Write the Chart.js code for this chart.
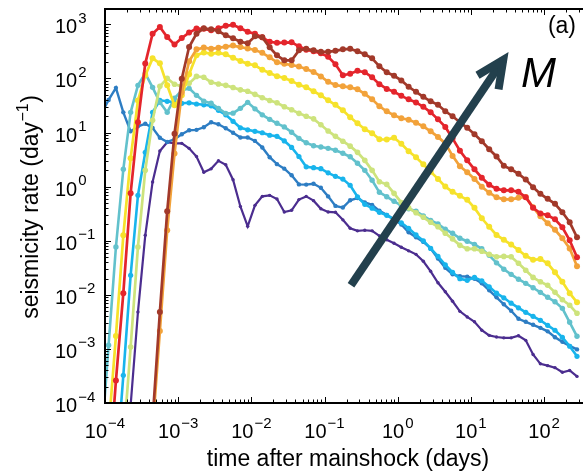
<!DOCTYPE html>
<html>
<head>
<meta charset="utf-8">
<script src="https://cdn.jsdelivr.net/npm/chart.js@4.4.1/dist/chart.umd.min.js"></script>
<style>
  html, body { margin: 0; padding: 0; background: #fff; }
  #wrap { width: 586px; height: 472px; }
</style>
</head>
<body>
<div id="wrap"><canvas id="rateChart" width="586" height="472"></canvas></div>
<script>
// time bins (days after mainshock), shared by all curves
const timeBins = [
  8.91e-5, 1.12e-4, 1.41e-4, 1.78e-4, 2.24e-4, 2.82e-4, 3.55e-4, 4.47e-4, 5.62e-4, 7.08e-4,
  8.91e-4, 1.12e-3, 1.41e-3, 1.78e-3, 2.24e-3, 2.82e-3, 3.55e-3, 4.47e-3, 5.62e-3, 7.08e-3,
  8.91e-3, 0.0112, 0.0141, 0.0178, 0.0224, 0.0282, 0.0355, 0.0447, 0.0562, 0.0708,
  0.0891, 0.112, 0.141, 0.178, 0.224, 0.282, 0.355, 0.447, 0.562, 0.708,
  0.891, 1.12, 1.41, 1.78, 2.24, 2.82, 3.55, 4.47, 5.62, 7.08,
  8.91, 11.2, 14.1, 17.8, 22.4, 28.2, 35.5, 44.7, 56.2, 70.8,
  89.1, 112, 141, 178, 224, 282
];

// seismicity rate (1/day), smallest magnitude first
const ratePurple = [null, null, null, null, 9e-5, 4.8e-3, 0.126, 1.22, 4.55, 6.6,
  6.3, 6.3, 5.1, 3.6, 1.84, 2.13, 3.0, 2.53, 1.34, 0.43,
  0.185, 0.45, 0.66, 0.69, 0.59, 0.34, 0.365, 0.575, 0.66, 0.55,
  0.39, 0.34, 0.335, 0.243, 0.17, 0.152, 0.156, 0.152, 0.123, 0.104,
  0.0895, 0.0755, 0.065, 0.056, 0.0416, 0.0272, 0.0167, 0.0114, 0.0076, 0.00495,
  0.0039, 0.00317, 0.00221, 0.00178, 0.00166, 0.0016, 0.0016, 0.00175, 0.00144, 7.9e-4,
  5.3e-4, 4.9e-4, 4.5e-4, 3.7e-4, 4.0e-4, 3.1e-4];
const rateBlue = [22, 40, 67, 23.6, 10.5, 13, 14.5, 12.2, 8.0, 6.7,
  7.5, 9.3, 11, 11.2, 12.5, 15.5, 14.2, 12, 9.9, 8.1,
  8.1, 7.0, 5.3, 3.5, 2.6, 2.15, 1.62, 1.1, 1.09, 1.13,
  0.95, 0.66, 0.44, 0.41, 0.56, 0.615, 0.51, 0.46, 0.357, 0.30,
  0.249, 0.20, 0.143, 0.116, 0.095, 0.072, 0.047, 0.0315, 0.0239, 0.022,
  0.0217, 0.0198, 0.0163, 0.0121, 0.009, 0.00667, 0.00506, 0.0036, 0.00317, 0.00279,
  0.00245, 0.00211, 0.00164, 0.00135, 0.00114, 9.8e-4];
const rateCyan = [null, null, 5e-6, 3.25e-4, 0.0229, 0.69, 4.3, 23.6, 39.4, 37.8,
  36.1, 34.7, 35.4, 33.7, 32.5, 31.2, 25.7, 21.2, 16.1, 12.2,
  11.2, 10.5, 9.9, 8.9, 8.5, 7.0, 5.3, 3.6, 2.32, 2.24,
  2.15, 1.8, 1.55, 1.38, 1.06, 0.65, 0.47, 0.40, 0.335, 0.295,
  0.249, 0.214, 0.17, 0.128, 0.0995, 0.072, 0.0515, 0.0359, 0.026, 0.0198,
  0.0185, 0.021, 0.0182, 0.0141, 0.0107, 0.0088, 0.007, 0.00575, 0.00475, 0.004,
  0.00338, 0.00273, 0.00221, 0.00164, 0.00112, 7.3e-4];
const rateTeal = [1.8e-5, 1.17e-3, 0.0766, 2.09, 23.6, 74.5, 124, 68.4, 36.1, 23.6,
  42.9, 60, 65.6, 48.7, 37.8, 34.7, 28, 22.6, 22.8, 28,
  36.1, 27.4, 21.2, 17.5, 14.8, 12.7, 10.1, 7.8, 6.45, 5.7,
  5.4, 5.1, 4.7, 4.13, 3.56, 2.7, 2.0, 1.31, 0.785, 0.65,
  0.535, 0.45, 0.39, 0.35, 0.288, 0.238, 0.205, 0.163, 0.137, 0.111,
  0.0975, 0.0857, 0.0708, 0.0537, 0.039, 0.0296, 0.0239, 0.0194, 0.0163, 0.0135,
  0.0111, 0.009, 0.00743, 0.00562, 0.0031, 0.00171];
const rateLightGreen = [null, null, null, 1.8e-5, 1.08e-3, 0.0766, 2.0, 16.8, 71.5, 100,
  78, 71.5, 81, 109, 105, 85, 79, 74.5, 68, 61.5,
  57.8, 50.8, 43.8, 39, 35.4, 29.9, 26.3, 22.6, 20, 17.9,
  13.9, 10.7, 8.5, 6.9, 5.6, 4.3, 3.06, 2.0, 1.23, 1.1,
  0.75, 0.51, 0.405, 0.328, 0.271, 0.219, 0.181, 0.137, 0.108, 0.082,
  0.0708, 0.0708, 0.0637, 0.056, 0.0504, 0.0513, 0.0504, 0.0382, 0.0284, 0.021,
  0.0174, 0.015, 0.0111, 0.0081, 0.0064, 0.00455];
const rateYellow = [null, 3.3e-5, 1.73e-3, 0.126, 3.33, 39, 114, 235, 190, 74.5,
  31.8, 48.7, 119, 267, 303, 285, 297, 279, 240, 211,
  186, 175, 144, 126, 110, 102, 90, 76, 68.4, 57.8,
  48.7, 39.4, 32.5, 25.7, 19.1, 14.8, 11.5, 9.7, 7.5, 7.4,
  8.0, 6.2, 4.5, 3.5, 2.58, 1.88, 1.39, 1.0, 0.80, 0.676,
  0.57, 0.405, 0.26, 0.181, 0.128, 0.104, 0.0847, 0.0673, 0.0526, 0.0444,
  0.0457, 0.0382, 0.026, 0.0174, 0.0107, 0.00727];
const rateOrange = [null, null, null, null, null, null, null, 3.2e-5, 2.14e-3, 0.156,
  4.1, 55, 207, 345, 371, 352, 368, 387, 404, 380,
  357, 335, 297, 245, 199, 186, 177, 166, 150, 132,
  109, 86.5, 75.5, 71.5, 68.4, 63, 51.9, 41.1, 30.5, 24.7,
  20.8, 18.3, 17.2, 15.2, 13, 10.5, 8.3, 6.3, 3.7, 2.37,
  1.84, 1.39, 0.99, 0.77, 0.634, 0.582, 0.582, 0.62, 0.643, 0.414,
  0.282, 0.21, 0.159, 0.111, 0.072, 0.0336];
const rateRed = [null, 3.7e-6, 2.6e-4, 0.0107, 0.75, 15.5, 188, 673, 891, 582,
  422, 558, 703, 834, 826, 774, 843, 938, 980, 843,
  727, 667, 575, 475, 455, 459, 465, 392, 338, 317,
  291, 251, 182, 114, 122, 138, 130, 105, 78, 64,
  56.5, 47.6, 41, 36, 29.9, 23.6, 17.5, 12.7, 7.8, 4.6,
  3.06, 2.09, 1.46, 1.08, 0.91, 0.855, 0.855, 0.80, 0.634, 0.405,
  0.32, 0.295, 0.249, 0.177, 0.102, 0.0493];
const rateBrown = [null, null, null, null, null, null, null, 4.8e-5, 4.8e-3, 0.35,
  9.5, 99, 380, 673, 843, 809, 743, 627, 551, 475,
  446, 600, 575, 376, 267, 216, 216, 330, 352, 330,
  310, 310, 324, 345, 352, 317, 279, 235, 167, 130,
  112, 92, 70, 56.5, 45.7, 37.8, 32.5, 24.7, 20, 15.5,
  12.2, 9.3, 6.9, 4.9, 3.6, 2.42, 2.09, 1.72, 1.36, 0.97,
  0.736, 0.594, 0.48, 0.335, 0.219, 0.116];

// tick exponents for the decade labels
const xExponents = [-4, -3, -2, -1, 0, 1, 2];
const yExponents = [-4, -3, -2, -1, 0, 1, 2, 3];

// arrow showing increasing magnitude, in data coordinates (tail, head)
const arrowTail = [0.23, 0.015];
const arrowHead = [27.7, 221];

const curves = [
  { values: ratePurple,     color: '#4b2d8f', radius: 1.7, width: 2.2 },
  { values: rateBlue,       color: '#2d7dc3', radius: 2.2, width: 2.4 },
  { values: rateCyan,       color: '#18b4ec', radius: 2.6, width: 2.6 },
  { values: rateTeal,       color: '#62c1cc', radius: 2.7, width: 2.6 },
  { values: rateLightGreen, color: '#cde37c', radius: 2.8, width: 2.7 },
  { values: rateYellow,     color: '#f6e22b', radius: 3.0, width: 2.7 },
  { values: rateOrange,     color: '#f2a23a', radius: 3.0, width: 2.7 },
  { values: rateRed,        color: '#e4252c', radius: 3.0, width: 2.7 },
  { values: rateBrown,      color: '#a2392a', radius: 3.0, width: 2.7 }
];

const FONT = '"Liberation Sans", Arial, Helvetica, sans-serif';

function expText(e) {
  return e < 0 ? '\u2212' + Math.abs(e) : String(e);
}

// "10" with a raised exponent
function drawPower(ctx, e, x, baseY, centered) {
  const sup = expText(e);
  ctx.font = '20px ' + FONT;
  const wBase = ctx.measureText('10').width;
  ctx.font = '15px ' + FONT;
  const wSup = ctx.measureText(sup).width;
  const left = centered ? x - (wBase + wSup + 1) / 2 : x;
  ctx.textAlign = 'left';
  ctx.font = '20px ' + FONT;
  ctx.fillText('10', left, baseY);
  ctx.font = '15px ' + FONT;
  ctx.fillText(sup, left + wBase + 1, baseY - 10.5);
}

const axesDecor = {
  id: 'axesDecor',
  afterDatasetsDraw(chart) {
    const ctx = chart.ctx;
    const xs = chart.scales.x, ys = chart.scales.y;
    const p0 = [xs.getPixelForValue(arrowTail[0]), ys.getPixelForValue(arrowTail[1])];
    const p1 = [xs.getPixelForValue(arrowHead[0]), ys.getPixelForValue(arrowHead[1])];
    const ang = Math.atan2(p1[1] - p0[1], p1[0] - p0[0]);
    const barb = 30, spread = 25 * Math.PI / 180;
    ctx.save();
    ctx.strokeStyle = '#23404d';
    ctx.lineWidth = 8;
    ctx.lineCap = 'butt';
    ctx.lineJoin = 'miter';
    ctx.beginPath();
    ctx.moveTo(p0[0], p0[1]);
    ctx.lineTo(p1[0], p1[1]);
    ctx.stroke();
    ctx.beginPath();
    ctx.moveTo(p1[0] - barb * Math.cos(ang - spread), p1[1] - barb * Math.sin(ang - spread));
    ctx.lineTo(p1[0], p1[1]);
    ctx.lineTo(p1[0] - barb * Math.cos(ang + spread), p1[1] - barb * Math.sin(ang + spread));
    ctx.stroke();
    ctx.restore();
  },
  afterDraw(chart) {
    const ctx = chart.ctx;
    const area = chart.chartArea;
    const xs = chart.scales.x, ys = chart.scales.y;
    ctx.save();
    ctx.strokeStyle = '#000';
    ctx.fillStyle = '#000';

    // frame (left, bottom, top)
    ctx.lineWidth = 2;
    ctx.beginPath();
    ctx.moveTo(area.right + 1, area.top);
    ctx.lineTo(area.left, area.top);
    ctx.lineTo(area.left, area.bottom);
    ctx.lineTo(area.right + 1, area.bottom);
    ctx.stroke();

    // inward major and minor ticks
    ctx.lineWidth = 1;
    ctx.beginPath();
    for (let e = -4; e <= 3; e++) {
      for (let m = 1; m <= 9; m++) {
        const v = m * Math.pow(10, e);
        const len = m === 1 ? 6 : 3.5;
        if (v >= xs.min && v <= xs.max) {
          const px = Math.round(xs.getPixelForValue(v)) + 0.5;
          ctx.moveTo(px, area.bottom);
          ctx.lineTo(px, area.bottom - len);
          ctx.moveTo(px, area.top);
          ctx.lineTo(px, area.top + len);
        }
        if (v >= ys.min && v <= ys.max) {
          const py = Math.round(ys.getPixelForValue(v)) + 0.5;
          ctx.moveTo(area.left, py);
          ctx.lineTo(area.left + len, py);
        }
      }
    }
    ctx.stroke();

    // decade labels
    ctx.textBaseline = 'alphabetic';
    xExponents.forEach(e => {
      drawPower(ctx, e, xs.getPixelForValue(Math.pow(10, e)), 438, true);
    });
    yExponents.forEach(e => {
      drawPower(ctx, e, 55, ys.getPixelForValue(Math.pow(10, e)) + 9, false);
    });

    // axis titles
    ctx.font = '23px ' + FONT;
    ctx.textAlign = 'center';
    ctx.fillText('time after mainshock (days)', 348, 466);

    ctx.save();
    ctx.translate(38, (area.top + area.bottom) / 2 + 1);
    ctx.rotate(-Math.PI / 2);
    ctx.textAlign = 'left';
    const partA = 'seismicity rate (day', partB = '\u22121', partC = ')';
    ctx.font = '23px ' + FONT;
    const wA = ctx.measureText(partA).width, wC = ctx.measureText(partC).width;
    ctx.font = '16px ' + FONT;
    const wB = ctx.measureText(partB).width;
    let x0 = -(wA + wB + wC + 1) / 2;
    ctx.font = '23px ' + FONT;
    ctx.fillText(partA, x0, 0);
    ctx.font = '16px ' + FONT;
    ctx.fillText(partB, x0 + wA + 0.5, -10);
    ctx.font = '23px ' + FONT;
    ctx.fillText(partC, x0 + wA + wB + 1, 0);
    ctx.restore();

    // panel letter and magnitude label
    ctx.font = '23px ' + FONT;
    ctx.textAlign = 'right';
    ctx.fillText('(a)', 576, 33);
    ctx.font = 'italic 42px ' + FONT;
    ctx.textAlign = 'left';
    ctx.fillText('M', 521, 87);
    ctx.restore();
  }
};

const datasets = curves.map((c, i) => ({
  data: timeBins.map((t, k) => ({ x: t, y: c.values[k] })).filter(p => p.y !== null && p.y !== undefined),
  borderColor: c.color,
  backgroundColor: c.color,
  borderWidth: c.width,
  pointRadius: c.radius,
  pointBorderWidth: 0,
  pointBackgroundColor: c.color,
  tension: 0,
  fill: false,
  order: curves.length - i
}));

new Chart(document.getElementById('rateChart').getContext('2d'), {
  type: 'line',
  data: { datasets: datasets },
  options: {
    responsive: false,
    animation: false,
    devicePixelRatio: 1,
    layout: { padding: { top: 9, right: 0, bottom: 0, left: 0 } },
    plugins: { legend: { display: false }, tooltip: { enabled: false } },
    scales: {
      x: {
        type: 'logarithmic',
        position: 'bottom',
        min: 1e-4,
        max: 330,
        ticks: { display: false },
        grid: { display: false },
        border: { display: false },
        afterFit: function(scale) { scale.height = 69; }
      },
      y: {
        type: 'logarithmic',
        position: 'left',
        min: 1e-4,
        max: 1920,
        ticks: { display: false },
        grid: { display: false },
        border: { display: false },
        afterFit: function(scale) { scale.width = 105; }
      }
    }
  },
  plugins: [axesDecor]
});
</script>
</body>
</html>
